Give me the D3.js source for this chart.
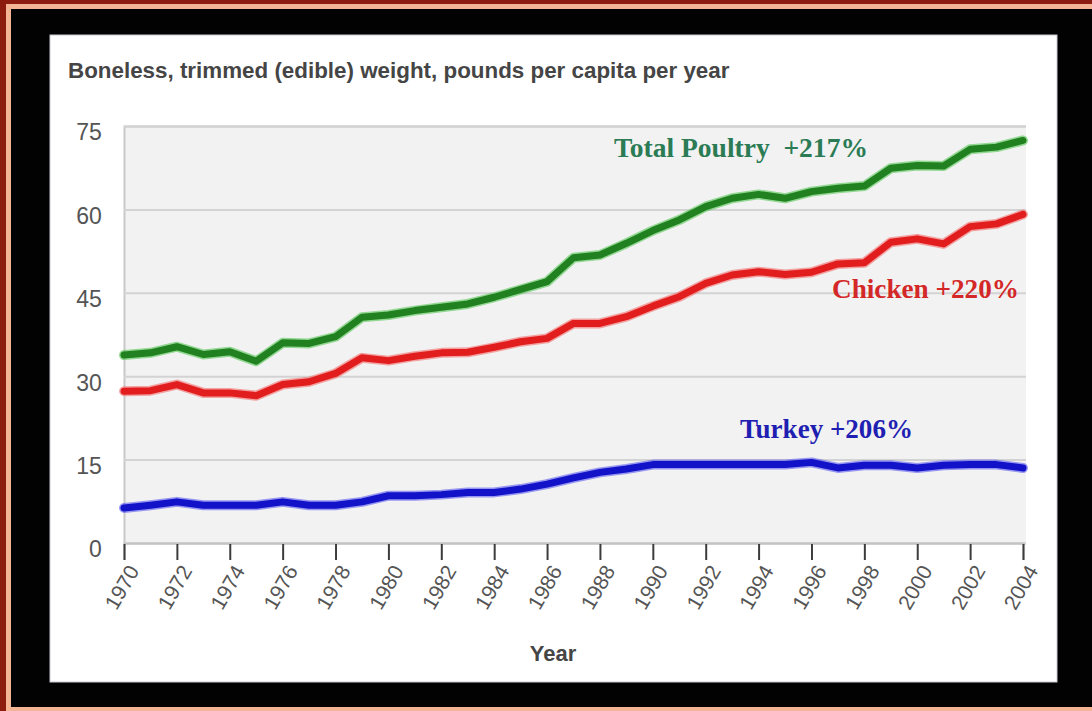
<!DOCTYPE html>
<html>
<head>
<meta charset="utf-8">
<script src="https://cdn.jsdelivr.net/npm/d3@7"></script>
<style>
  html, body { margin: 0; padding: 0; background: #000; }
  svg { display: block; }
</style>
</head>
<body>
<svg id="chart" width="1092" height="711"></svg>
<script>
// Per-capita poultry consumption, boneless trimmed weight (lb/person/year)
const years = d3.range(1970, 2005);
const totalPoultry = [33.8, 34.2, 35.3, 33.9, 34.4, 32.7, 36.0, 35.9, 37.1, 40.6,
  41.0, 41.8, 42.4, 43.0, 44.2, 45.6, 47.0, 51.3, 51.8, 53.9,
  56.2, 58.1, 60.5, 62.0, 62.7, 62.0, 63.2, 63.8, 64.2, 67.4,
  67.9, 67.8, 70.8, 71.2, 72.4];
const chicken = [27.3, 27.4, 28.5, 27.0, 27.0, 26.5, 28.5, 29.0, 30.5, 33.3,
  32.8, 33.6, 34.2, 34.3, 35.2, 36.2, 36.8, 39.5, 39.5, 40.7,
  42.6, 44.3, 46.7, 48.2, 48.8, 48.3, 48.7, 50.2, 50.4, 54.1,
  54.7, 53.8, 56.9, 57.4, 59.1];
const turkey = [6.3, 6.8, 7.4, 6.8, 6.8, 6.8, 7.4, 6.8, 6.8, 7.4,
  8.5, 8.5, 8.7, 9.1, 9.1, 9.7, 10.6, 11.7, 12.7, 13.3,
  14.1, 14.1, 14.1, 14.1, 14.1, 14.1, 14.5, 13.5, 14.0, 14.0,
  13.5, 14.0, 14.1, 14.1, 13.5];
const yTicks = [0, 15, 30, 45, 60, 75];
const xTicks = d3.range(1970, 2005, 2);
const titleText = "Boneless, trimmed (edible) weight, pounds per capita per year";
const xAxisTitle = "Year";
const seriesLabels = ["Total Poultry  +217%", "Chicken +220%", "Turkey +206%"];

const svg = d3.select("#chart");

// Slide frame: dark red edge, thin peach rule, black matte
svg.append("rect").attr("x", 0).attr("y", 0).attr("width", 1092).attr("height", 711).attr("fill", "#8c1c0e");
svg.append("rect").attr("x", 6).attr("y", 4).attr("width", 1086).attr("height", 707).attr("fill", "#f3b594");
svg.append("rect").attr("x", 11).attr("y", 9).attr("width", 1081).attr("height", 698).attr("fill", "#020202");

// White chart card
svg.append("rect").attr("x", 50).attr("y", 35).attr("width", 1007).attr("height", 647)
  .attr("fill", "#ffffff").attr("stroke", "#c9c9d2").attr("stroke-width", 1);

// Fit a text element to a given rendered width by adjusting its font size
function fitWidth(sel, target) {
  const node = sel.node();
  const fs = parseFloat(sel.attr("font-size"));
  const w = node.getComputedTextLength();
  if (w > 0) sel.attr("font-size", (fs * target / w).toFixed(2));
  return sel;
}

// Title
fitWidth(svg.append("text")
  .attr("x", 68).attr("y", 78)
  .attr("font-family", "Liberation Sans, Arial, sans-serif")
  .attr("font-weight", "bold").attr("font-size", 20)
  .attr("fill", "#454545")
  .text(titleText), 662);

const x = d3.scaleLinear().domain([1970, 2004]).range([124, 1023]);
const y = d3.scaleLinear().domain([0, 75]).range([543, 126]);

// Plot background
svg.append("rect").attr("x", x(1970)).attr("y", y(75))
  .attr("width", 1026 - x(1970)).attr("height", y(0) - y(75))
  .attr("fill", "#f2f2f2");

// Y axis with gridlines
const yAxis = svg.append("g").attr("transform", `translate(${x(1970)},0)`)
  .call(d3.axisLeft(y).tickValues(yTicks).tickSize(-(1026 - x(1970))).tickPadding(23));
yAxis.select(".domain").attr("stroke", "#c8c8c8").attr("stroke-width", 2);
yAxis.selectAll(".tick line").attr("stroke", "#d3d3d3").attr("stroke-width", 2);
yAxis.selectAll(".tick text")
  .attr("font-family", "Liberation Sans, Arial, sans-serif")
  .attr("font-size", 24).attr("fill", "#555555").attr("dy", "0.58em")
  .attr("transform", "scale(0.96,1)");

// X axis
const xAxis = svg.append("g").attr("transform", `translate(0,${y(0)})`)
  .call(d3.axisBottom(x).tickValues(xTicks).tickFormat(d3.format("d")).tickSizeOuter(0).tickSize(17));
xAxis.select(".domain").attr("stroke", "#c4c4c4").attr("stroke-width", 2);
xAxis.selectAll(".tick line").attr("stroke", "#3c3c3c").attr("stroke-width", 2).attr("y1", 1);
xAxis.selectAll(".tick text")
  .attr("font-family", "Liberation Sans, Arial, sans-serif")
  .attr("font-size", 21).attr("fill", "#555555")
  .attr("text-anchor", "end")
  .attr("transform", "translate(9,24) rotate(-60)")
  .attr("y", 0).attr("dy", "0.35em");

svg.append("text")
  .attr("x", 553).attr("y", 661).attr("text-anchor", "middle")
  .attr("font-family", "Liberation Sans, Arial, sans-serif")
  .attr("font-weight", "bold").attr("font-size", 22)
  .attr("fill", "#454545")
  .text(xAxisTitle);

// Series lines: soft light halo under a darker core
const line = d3.line().x((d, i) => x(years[i])).y(d => y(d));
const series = [
  { values: totalPoultry, halo: "#52c452", core: "#21801f" },
  { values: chicken, halo: "#f36a6a", core: "#e21d1d" },
  { values: turkey, halo: "#5a5af0", core: "#1212c8" }
];
series.forEach(s => {
  svg.append("path").datum(s.values).attr("d", line)
    .attr("fill", "none").attr("stroke", s.halo).attr("stroke-width", 10)
    .attr("stroke-opacity", 0.6).attr("stroke-linejoin", "round").attr("stroke-linecap", "round");
  svg.append("path").datum(s.values).attr("d", line)
    .attr("fill", "none").attr("stroke", s.core).attr("stroke-width", 7)
    .attr("stroke-linejoin", "round").attr("stroke-linecap", "round");
});

// Series annotations
const labelSpecs = [
  { text: seriesLabels[0], x: 614, y: 157, w: 254, color: "#2b7b55" },
  { text: seriesLabels[1], x: 832, y: 298, w: 187, color: "#d42828" },
  { text: seriesLabels[2], x: 740, y: 438, w: 173, color: "#1f1fb2" }
];
labelSpecs.forEach(l => {
  fitWidth(svg.append("text")
    .attr("x", l.x).attr("y", l.y)
    .attr("font-family", "Liberation Serif, Times New Roman, serif")
    .attr("font-weight", "bold").attr("font-size", 24)
    .attr("fill", l.color)
    .style("white-space", "pre")
    .text(l.text), l.w);
});
</script>
</body>
</html>
